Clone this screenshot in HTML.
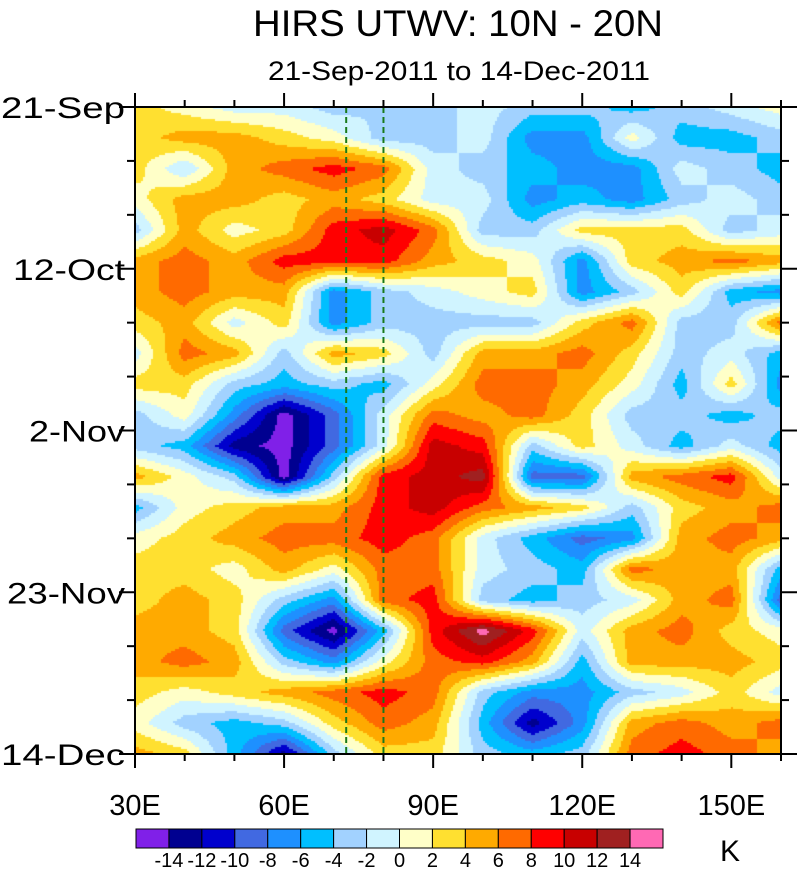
<!DOCTYPE html>
<html><head><meta charset="utf-8">
<style>
body{margin:0;background:#fff;width:801px;height:869px;overflow:hidden;position:relative;font-family:"Liberation Sans",sans-serif;}
</style></head>
<body>
<canvas id="cv" width="646" height="647" style="position:absolute;left:135px;top:107px;"></canvas>
<svg id="ov" width="801" height="869" style="position:absolute;left:0;top:0;">
<text x="458" y="36" text-anchor="middle" font-size="37" textLength="410" lengthAdjust="spacingAndGlyphs" font-family="Liberation Sans, sans-serif">HIRS UTWV: 10N - 20N</text>
<text x="459" y="80" text-anchor="middle" font-size="27" textLength="382" lengthAdjust="spacingAndGlyphs" font-family="Liberation Sans, sans-serif">21-Sep-2011 to 14-Dec-2011</text>
</svg>
<script>
const lons=[30,40,50,60,70,80,90,100,110,120,130,140,150,160];
const days=[0,4,8,12,16,20,24,28,32,36,40,44,48,52,56,60,64,68,72,76,80,84];
const anomalies=[
[3,1,-1,-1,-3,-2,-3,-1,-3,-3,-5,-3,-1,1],
[3,5,5,3,1,-3,-3,-1,-7,-7,1,-5,-5,-3],
[3,-2,5,7,9,7,-1,-3,-5,-7,-7,-1,-3,-5],
[1,5,5,3,5,3,-1,-1,-7,-5,-7,-3,-1,-3],
[-3,5,1,3,9,11,7,-3,-3,3,3,3,-3,-1],
[5,7,5,9,9,9,5,3,1,-7,3,5,7,5],
[5,7,5,5,-7,-3,-1,1,3,-7,-3,3,-5,-7],
[3,5,-1,3,-7,-3,-3,-3,-3,3,7,-3,-3,7],
[-1,7,5,-3,5,3,-3,5,5,7,3,-3,-1,-5],
[3,3,-3,-5,-3,-5,1,7,7,5,1,-5,3,-7],
[-3,1,-7,-15,-9,-1,7,5,7,3,-3,-3,-5,-3],
[-3,-5,-13,-15,-9,-1,11,9,-3,3,-1,-5,-1,-5],
[5,1,-3,-15,-3,9,11,13,-9,-9,5,7,9,-1],
[-5,1,3,5,5,9,11,7,5,3,-3,3,5,7],
[1,3,5,7,7,9,7,-1,-5,-9,-7,5,7,5],
[3,3,1,5,1,7,7,-1,-3,-5,7,5,5,-5],
[3,5,3,-3,-7,7,9,-3,-5,-3,-1,5,7,-9],
[5,5,3,-9,-15,-5,9,15,9,-1,5,7,3,1],
[5,7,5,-3,-7,1,7,9,5,-5,5,5,5,3],
[3,1,3,5,7,9,7,-3,-7,-7,-3,-1,3,-1],
[1,-3,-5,-3,3,7,5,-5,-13,-7,5,7,5,7],
[5,3,-5,-13,-3,3,3,-3,-5,-3,7,9,7,5]
];
const levels=[-14,-12,-10,-8,-6,-4,-2,0,2,4,6,8,10,12,14];
const colors=["#8020e8","#000090","#0000cd","#4169e1","#1e90ff","#00bfff","#a2d2ff","#d0f4ff","#ffffc8","#ffe030","#ffaa00","#ff6a00","#ff0000","#c80000","#a02020","#ff69b4"];
const X0=135,X1=781,Y0=107,Y1=754;
const xs=l=>X0+(l-30)/(160-30)*(X1-X0);
const ys=d=>Y0+d/84*(Y1-Y0);
function colorFor(v){let i=0;while(i<levels.length&&v>=levels[i])i++;return colors[i];}
function sample(lon,day){
  let ci=0;while(ci<lons.length-2&&lon>lons[ci+1])ci++;
  let ri=0;while(ri<days.length-2&&day>days[ri+1])ri++;
  const fx=Math.min(1,Math.max(0,(lon-lons[ci])/(lons[ci+1]-lons[ci])));
  const fy=Math.min(1,Math.max(0,(day-days[ri])/(days[ri+1]-days[ri])));
  const a=anomalies[ri][ci],b=anomalies[ri][ci+1],c=anomalies[ri+1][ci],d=anomalies[ri+1][ci+1];
  return a*(1-fx)*(1-fy)+b*fx*(1-fy)+c*(1-fx)*fy+d*fx*fy;
}
const ctx=document.getElementById('cv').getContext('2d');
const S=2;
for(let py=0;py<647;py+=S){for(let px=0;px<646;px+=S){
  const lon=30+(px+S/2)/646*130, day=(py+S/2)/647*84;
  ctx.fillStyle=colorFor(sample(lon,day));ctx.fillRect(px,py,S,S);
}}
const NS="http://www.w3.org/2000/svg";
const svg=document.getElementById('ov');
function mk(tag,attrs){const e=document.createElementNS(NS,tag);for(const k in attrs)e.setAttribute(k,attrs[k]);svg.appendChild(e);return e;}
[72.5,80].forEach(l=>{
  const e=mk('line',{x1:xs(l),x2:xs(l),y1:Y0,y2:Y1,stroke:'#1a7a1a','stroke-width':2,'stroke-dasharray':'6,4'});
  
  
});
const fr=mk('rect',{x:X0,y:Y0,width:X1-X0,height:Y1-Y0,fill:'none',stroke:'#000','stroke-width':2});


const yLabels=["21-Sep","12-Oct","2-Nov","23-Nov","14-Dec"];
const yDays=[0,21,42,63,84];
const yWidths=[124,112,96,118,124];
for(let d=0;d<=84;d+=7){
  const major=d%21===0,L=major?16:8,y=ys(d);
  mk('line',{x1:X0-L,x2:X0,y1:y,y2:y,stroke:'#000','stroke-width':2});
  mk('line',{x1:X1,x2:X1+L,y1:y,y2:y,stroke:'#000','stroke-width':2});
}
yLabels.forEach((t,i)=>{
  const e=mk('text',{x:125,y:ys(yDays[i])+11,'text-anchor':'end','font-size':30,textLength:yWidths[i],lengthAdjust:'spacingAndGlyphs','font-family':'Liberation Sans, sans-serif'});
  e.textContent=t;
  
  
});
const xLabels=["30E","60E","90E","120E","150E"];
const xLons=[30,60,90,120,150];
for(let l=30;l<=160;l+=5){
  const major=(l-30)%30===0,L=major?14:(l%10===0?7:0),x=xs(l);
  if(!L)continue;
  mk('line',{x1:x,x2:x,y1:Y1,y2:Y1+L,stroke:'#000','stroke-width':2});
  mk('line',{x1:x,x2:x,y1:Y0-L,y2:Y0,stroke:'#000','stroke-width':2});
}
xLabels.forEach((t,i)=>{
  const e=mk('text',{x:xs(xLons[i]),y:815,'text-anchor':'middle','font-size':29,'font-family':'Liberation Sans, sans-serif'});
  e.textContent=t;
  
  
});
const cbX=136,cbW=527,cbY=829,cbH=19,bw=cbW/colors.length;
colors.forEach((c,i)=>{
  const e=mk('rect',{x:cbX+i*bw,y:cbY,width:bw,height:cbH,fill:c,stroke:'#000','stroke-width':1});
  
  
});
levels.forEach((v,i)=>{
  const e=mk('text',{x:cbX+(i+1)*bw,y:867,'text-anchor':'middle','font-size':20,'font-family':'Liberation Sans, sans-serif'});
  e.textContent=String(v);
  
  
});
const k=mk('text',{x:730,y:861,'text-anchor':'middle','font-size':30,'font-family':'Liberation Sans, sans-serif'});
k.textContent='K';


</script>
</body></html>
